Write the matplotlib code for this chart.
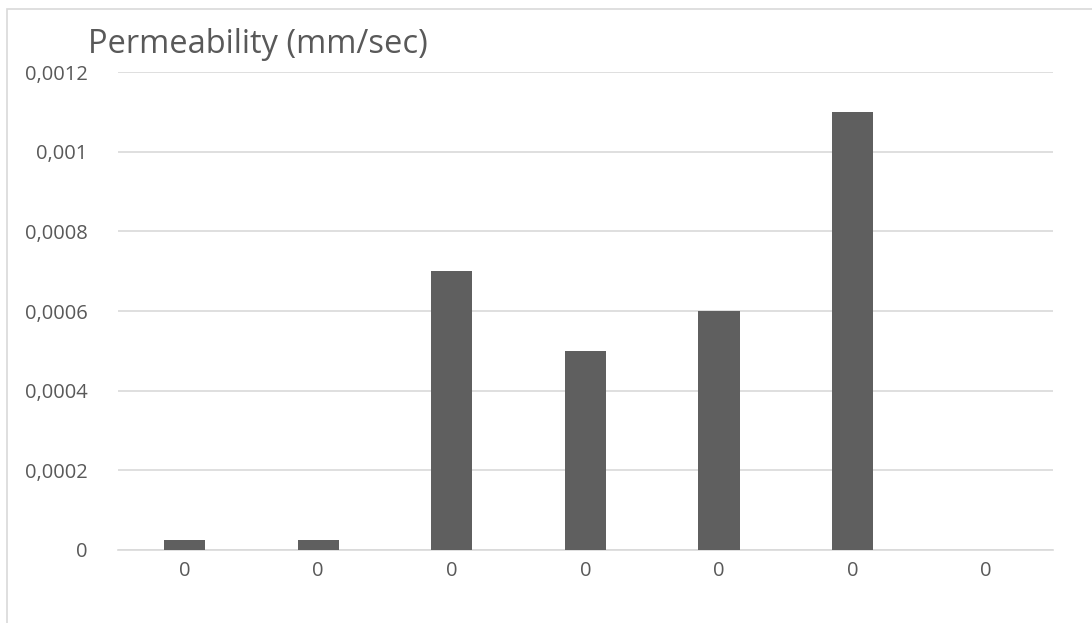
import matplotlib
matplotlib.use("Agg")
import matplotlib.pyplot as plt
from matplotlib.patches import Rectangle
import numpy as np

# permeability per sample (mm/sec); the category labels came out as zeros
labels = ["0", "0", "0", "0", "0", "0", "0"]
permeability = [0.000025, 0.000025, 0.0007, 0.0005, 0.0006, 0.0011, 0.0]
yticks = [0, 0.0002, 0.0004, 0.0006, 0.0008, 0.001, 0.0012]
ytick_labels = ["0", "0,0002", "0,0004", "0,0006", "0,0008", "0,001", "0,0012"]

text_col = "#595959"
bar_col = "#5f5f5f"
grid_col = "#d9d9d9"

plt.rcParams["font.family"] = ["Open Sans", "DejaVu Sans"]

fig = plt.figure(figsize=(10.92, 6.23), dpi=100)
ax = fig.add_axes([0.108, 0.1172, 0.856, 0.7672])

x = np.arange(len(labels))
ax.bar(x, permeability, width=0.31, color=bar_col, zorder=3)

ax.set_xlim(-0.5, len(labels) - 0.5)
ax.set_ylim(0, 0.0012)
ax.set_yticks(yticks)
ax.set_yticklabels(ytick_labels)
ax.set_xticks(x)
ax.set_xticklabels(labels)
ax.tick_params(length=0, labelsize=14.5, colors=text_col)
ax.tick_params(axis="y", pad=22)
ax.tick_params(axis="x", pad=8)

ax.grid(axis="y", color=grid_col, linewidth=1.2, zorder=0)
for side in ["top", "right", "left"]:
    ax.spines[side].set_visible(False)
ax.spines["bottom"].set_color(grid_col)
ax.spines["bottom"].set_linewidth(1.2)

fig.text(88 / 1092, 1 - 53 / 623, "Permeability (mm/sec)", fontsize=23.5,
         color=text_col, ha="left", va="baseline")

# outer chart frame, only the top and left edges fall inside the canvas
frame = Rectangle((7 / 1092, -0.1), 1.2, 1.1 - 9 / 623, transform=fig.transFigure,
                  fill=False, edgecolor=grid_col, linewidth=1.2)
fig.patches.append(frame)

fig.savefig("out.png", dpi=100)
